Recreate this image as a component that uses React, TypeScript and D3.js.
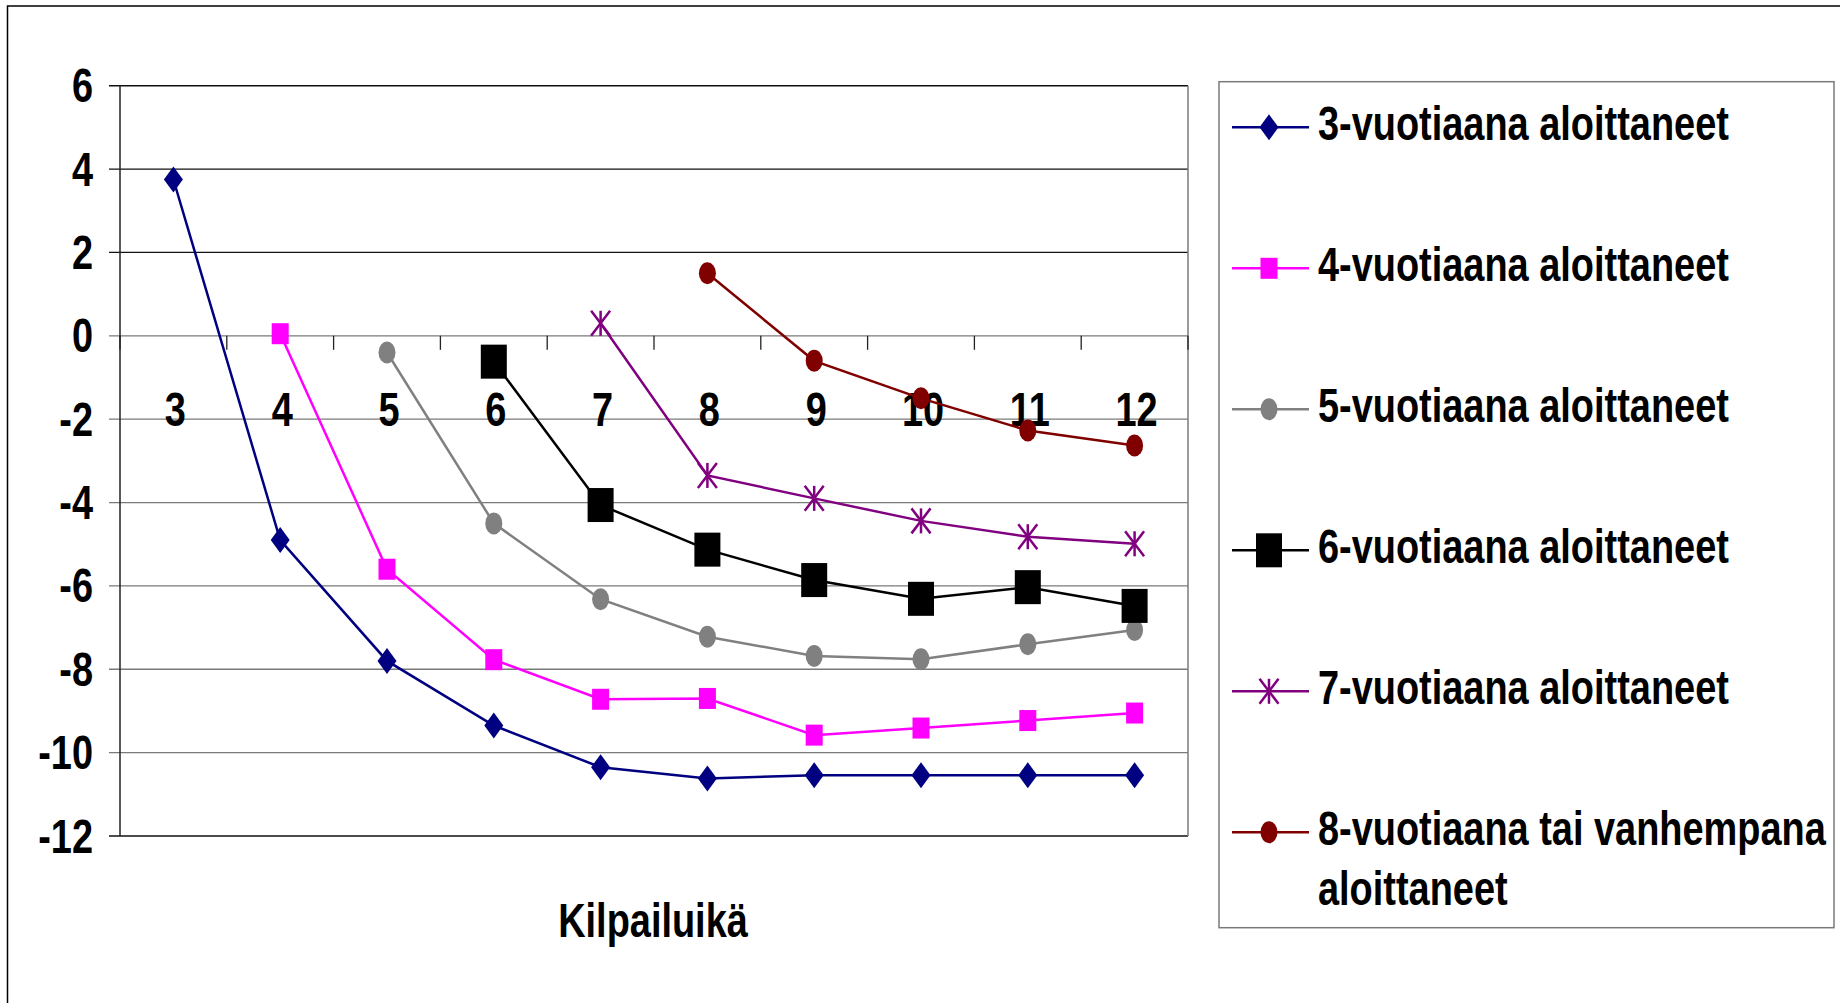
import React from "react";
import * as d3 from "d3";

const ages = ["3", "4", "5", "6", "7", "8", "9", "10", "11", "12"];
const yTicks = [6, 4, 2, 0, -2, -4, -6, -8, -10, -12];

const start3 = [3.75, -4.9, -7.8, -9.35, -10.35, -10.62, -10.54, -10.54, -10.54, -10.54];
const start4 = [null, 0.05, -5.6, -7.77, -8.72, -8.7, -9.58, -9.41, -9.23, -9.05];
const start5 = [null, null, -0.4, -4.5, -6.32, -7.22, -7.68, -7.76, -7.4, -7.06];
const start6 = [null, null, null, -0.62, -4.06, -5.13, -5.86, -6.31, -6.03, -6.48];
const start7 = [null, null, null, null, 0.3, -3.35, -3.9, -4.44, -4.82, -4.99];
const start8 = [null, null, null, null, null, 1.5, -0.6, -1.5, -2.27, -2.63];

const seriesNames = [
  "3-vuotiaana aloittaneet",
  "4-vuotiaana aloittaneet",
  "5-vuotiaana aloittaneet",
  "6-vuotiaana aloittaneet",
  "7-vuotiaana aloittaneet",
  "8-vuotiaana tai vanhempana|aloittaneet",
];
const seriesValues = [start3, start4, start5, start6, start7, start8];
const seriesColors = ["#000080", "#FF00FF", "#808080", "#000000", "#800080", "#800000"];
const seriesMarkers = ["diamond", "square", "circle", "bigsquare", "asterisk", "circle"];

const xTitle = "Kilpailuikä";

const FONT = "'Liberation Sans', Arial, sans-serif";
const NARROW = 0.79;

function NText({ x, y, anchor = "start", size = 48, children }: { x: number; y: number; anchor?: string; size?: number; children: React.ReactNode }) {
  return (
    <text
      transform={`translate(${x},${y}) scale(${NARROW},1)`}
      textAnchor={anchor}
      fontSize={size}
      fontWeight="bold"
      fill="#000"
      fontFamily={FONT}
    >
      {children}
    </text>
  );
}

function Marker({ type, x, y, color }: { type: string; x: number; y: number; color: string }) {
  if (type === "diamond") {
    const w = 9.5, h = 13;
    return <path d={`M${x},${y - h}L${x + w},${y}L${x},${y + h}L${x - w},${y}Z`} fill={color} />;
  }
  if (type === "square") {
    return <rect x={x - 8.5} y={y - 10.5} width={17} height={21} fill={color} />;
  }
  if (type === "bigsquare") {
    return <rect x={x - 13} y={y - 17} width={26} height={34} fill={color} />;
  }
  if (type === "circle") {
    return <ellipse cx={x} cy={y} rx={8.5} ry={11} fill={color} />;
  }
  const w = 9.5, h = 12.5;
  return (
    <g stroke={color} strokeWidth={2.5}>
      <line x1={x} y1={y - h} x2={x} y2={y + h} />
      <line x1={x - w} y1={y - h} x2={x + w} y2={y + h} />
      <line x1={x - w} y1={y + h} x2={x + w} y2={y - h} />
    </g>
  );
}

export default function App() {
  const W = 1840, H = 1003;
  const left = 120, right = 1188, top = 85.7, bottom = 836;
  const x = d3.scaleBand<string>().domain(ages).range([left, right]);
  const y = d3.scaleLinear().domain([-12, 6]).range([bottom, top]);
  const cx = (a: string) => (x(a) as number) + x.bandwidth() / 2;

  const line = d3
    .line<number | null>()
    .defined((d) => d !== null)
    .x((_, i) => cx(ages[i]))
    .y((d) => y(d as number));

  const boundaries = d3.range(ages.length + 1).map((i) => left + i * x.bandwidth());

  const legX = 1219, legY = 81.7, legW = 615, legH = 846;
  const rowY = (i: number) => 127.3 + i * 141;

  return (
    <svg width={W} height={H} style={{ position: "absolute", left: 0, top: 0, background: "#fff" }} fontFamily={FONT}>
      <rect x={0} y={0} width={W} height={H} fill="#fff" />
      <path d={`M7.5,${H + 5}V6H${W + 5}`} fill="none" stroke="#000" strokeWidth={1.5} />

      {yTicks.map((t) => (
        <line
          key={t}
          x1={left - 11}
          x2={right}
          y1={y(t)}
          y2={y(t)}
          stroke={t > 0 || t === -12 ? "#111" : "#7a7a7a"}
          strokeWidth={t === -12 || t === 6 ? 1.5 : 1.3}
        />
      ))}
      <line x1={right} x2={right} y1={top} y2={bottom} stroke="#7a7a7a" strokeWidth={1.5} />
      <line x1={left} x2={left} y1={top} y2={bottom} stroke="#222" strokeWidth={1.5} />
      {boundaries.map((b, i) => (
        <line key={i} x1={b} x2={b} y1={y(0)} y2={y(0) + 14} stroke="#222" strokeWidth={1.3} />
      ))}

      {yTicks.map((t) => (
        <NText key={t} x={93} y={y(t) + 16.5} anchor="end">
          {t}
        </NText>
      ))}
      {ages.map((a) => (
        <NText key={a} x={cx(a) + 2} y={426} anchor="middle">
          {a}
        </NText>
      ))}

      {seriesValues.map((vals, si) => (
        <g key={si}>
          <path d={line(vals) || ""} fill="none" stroke={seriesColors[si]} strokeWidth={2.5} />
          {vals.map((v, i) =>
            v === null ? null : (
              <Marker key={i} type={seriesMarkers[si]} x={cx(ages[i])} y={y(v)} color={seriesColors[si]} />
            )
          )}
        </g>
      ))}

      <NText x={653} y={937} anchor="middle">
        {xTitle}
      </NText>

      <rect x={legX} y={legY} width={legW} height={legH} fill="#fff" stroke="#7a7a7a" strokeWidth={1.5} />
      {seriesNames.map((name, i) => {
        const ry = rowY(i);
        const parts = name.split("|");
        return (
          <g key={i}>
            <line x1={1232} x2={1309} y1={ry} y2={ry} stroke={seriesColors[i]} strokeWidth={2.5} />
            <Marker type={seriesMarkers[i]} x={1269} y={ry} color={seriesColors[i]} />
            {parts.map((p, j) => (
              <NText key={j} x={1318} y={ry + 13 + j * 60}>
                {p}
              </NText>
            ))}
          </g>
        );
      })}
    </svg>
  );
}
